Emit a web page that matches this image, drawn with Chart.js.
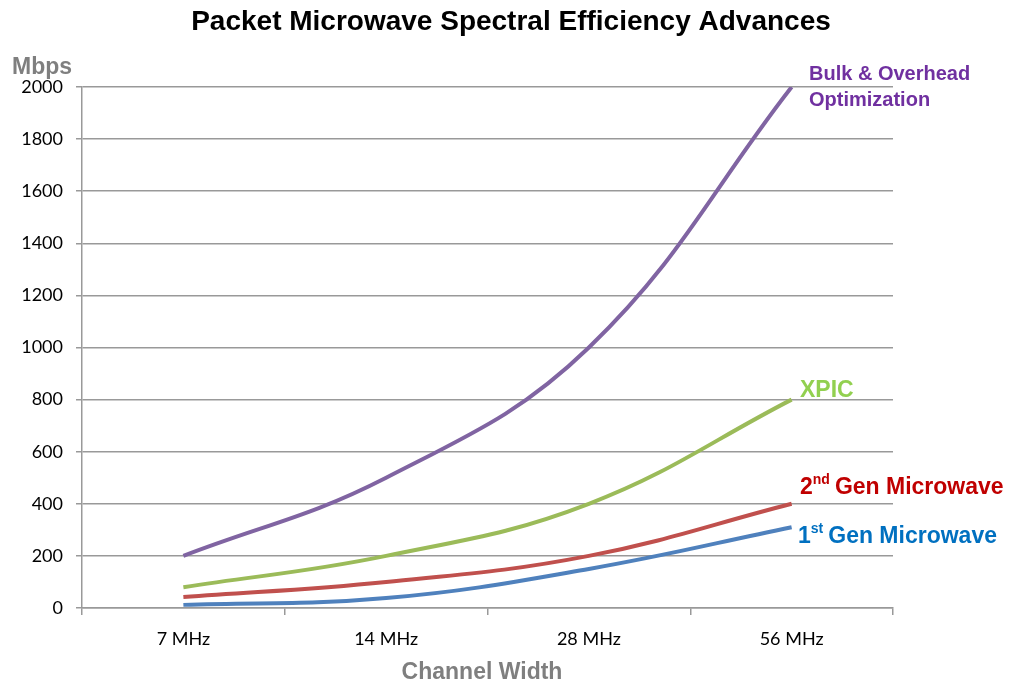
<!DOCTYPE html>
<html>
<head>
<meta charset="utf-8">
<script src="https://cdn.jsdelivr.net/npm/chart.js@4/dist/chart.umd.min.js"></script>
<style>
  html, body { margin: 0; padding: 0; background: #fff; }
  #wrap { width: 1024px; height: 683px; position: relative; }
</style>
</head>
<body>
<div id="wrap"><canvas id="chart"></canvas></div>
<script>
const categories = ['7 MHz', '14 MHz', '28 MHz', '56 MHz'];
const firstGen = [12, 38, 150, 310];
const secondGen = [42, 100, 200, 400];
const xpic = [80, 200, 400, 800];
const bulkOverhead = [200, 500, 1000, 2000];

const seriesNames = ['1st Gen Microwave', '2nd Gen Microwave', 'XPIC', 'Bulk & Overhead Optimization'];
const lineColors = ['#4F81BD', '#C0504D', '#9BBB59', '#8064A2'];
const labelColors = ['#0070C0', '#C00000', '#92D050', '#7030A0'];

const gray = '#7F7F7F';
const tickFont = { family: 'Lato', size: 18 };

// text around the plot: title, axis titles, series labels at line ends
const textPlugin = {
  id: 'textPlugin',
  afterDraw(chart) {
    const ctx = chart.ctx;
    ctx.save();
    ctx.textBaseline = 'alphabetic';

    ctx.fillStyle = '#000';
    ctx.font = 'bold 28px "Liberation Sans", Arial';
    ctx.textAlign = 'center';
    ctx.fillText('Packet Microwave Spectral Efficiency Advances', 511, 30);

    ctx.fillStyle = gray;
    ctx.font = 'bold 23px "Liberation Sans", Arial';
    ctx.textAlign = 'left';
    ctx.fillText('Mbps', 12, 74);
    ctx.textAlign = 'center';
    ctx.fillText('Channel Width', 482, 679);

    ctx.textAlign = 'left';
    const small = 'bold 20px "Liberation Sans", Arial';
    const big = 'bold 23px "Liberation Sans", Arial';
    const sup = 'bold 14px "Liberation Sans", Arial';

    // Bulk & Overhead
    ctx.font = small;
    ctx.fillStyle = labelColors[3];
    ctx.fillText('Bulk & Overhead', 809, 80);
    ctx.fillText('Optimization', 809, 106);

    // XPIC
    ctx.font = big;
    ctx.fillStyle = labelColors[2];
    ctx.fillText('XPIC', 800, 397);

    // 2nd Gen
    ctx.fillStyle = labelColors[1];
    let x = 800, y = 494;
    ctx.font = big; ctx.fillText('2', x, y); x += ctx.measureText('2').width;
    ctx.font = sup; ctx.fillText('nd', x, y - 10); x += ctx.measureText('nd').width + 5;
    ctx.font = big; ctx.fillText('Gen Microwave', x, y);

    // 1st Gen
    ctx.fillStyle = labelColors[0];
    x = 798; y = 543;
    ctx.font = big; ctx.fillText('1', x, y); x += ctx.measureText('1').width;
    ctx.font = sup; ctx.fillText('st', x, y - 10); x += ctx.measureText('st').width + 5;
    ctx.font = big; ctx.fillText('Gen Microwave', x, y);

    ctx.restore();
  }
};

const allSeries = [firstGen, secondGen, xpic, bulkOverhead];

new Chart(document.getElementById('chart'), {
  type: 'line',
  data: {
    labels: categories,
    datasets: allSeries.map((vals, i) => ({
      label: seriesNames[i],
      data: vals,
      borderColor: lineColors[i],
      borderWidth: 4,
      pointRadius: 0,
      tension: 0.4,
      fill: false
    }))
  },
  options: {
    responsive: true,
    maintainAspectRatio: false,
    animation: false,
    layout: { padding: { left: 0, right: 131, top: 87, bottom: 0 } },
    plugins: {
      legend: { display: false },
      title: { display: false },
      tooltip: { enabled: false }
    },
    scales: {
      x: {
        offset: true,
        grid: { offset: true, drawOnChartArea: false, drawTicks: true, tickLength: 7, color: '#999', lineWidth: 1.5 },
        border: { color: '#999', width: 1.5 },
        ticks: { color: '#000', font: tickFont, padding: 13 },
        afterFit(scale) { scale.height = 75; }
      },
      y: {
        min: 0,
        max: 2000,
        ticks: { stepSize: 200, color: '#000', font: tickFont, padding: 13, callback: v => String(v) },
        grid: { color: '#999', lineWidth: 1.5, tickLength: 6 },
        border: { color: '#999', width: 1.5 },
        afterFit(scale) { scale.width = 82; }
      }
    }
  },
  plugins: [textPlugin]
});
</script>
</body>
</html>
